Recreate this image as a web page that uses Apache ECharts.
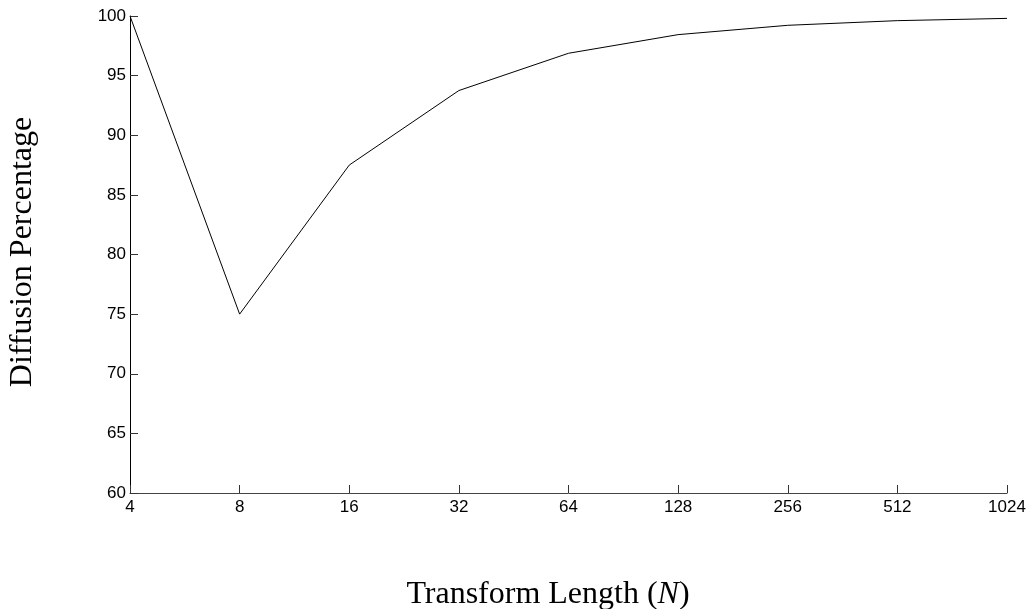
<!DOCTYPE html>
<html><head><meta charset="utf-8">
<script src="https://cdn.jsdelivr.net/npm/echarts@6/dist/echarts.min.js"></script>
<style>html,body{margin:0;padding:0;background:#fff;overflow:hidden}#c{width:1032px;height:609px}</style>
</head><body><div id="c"></div>
<script>
const categories = ['4','8','16','32','64','128','256','512','1024'];
const diffusion = [100, 75, 87.5, 93.75, 96.875, 98.4375, 99.22, 99.61, 99.8];
const yTicks = {min: 60, max: 100, interval: 5};

const chart = echarts.init(document.getElementById('c'));
chart.setOption({
  animation: false,
  backgroundColor: '#fff',
  grid: {left: 130, width: 877, top: 16, height: 477, containLabel: false},
  xAxis: {
    type: 'category', data: categories, boundaryGap: false,
    axisLine: {lineStyle: {color: '#444', width: 1}},
    axisTick: {inside: true, length: 8, lineStyle: {color: '#333'}},
    axisLabel: {color: '#000', fontFamily: 'Liberation Sans, Arial', fontSize: 17, margin: 6},
    splitLine: {show: false}
  },
  yAxis: {
    type: 'value', min: yTicks.min, max: yTicks.max, interval: yTicks.interval,
    axisLine: {show: true, lineStyle: {color: '#000', width: 1}},
    axisTick: {show: true, inside: true, length: 8, lineStyle: {color: '#333'}},
    axisLabel: {color: '#000', fontFamily: 'Liberation Sans, Arial', fontSize: 17, margin: 4},
    splitLine: {show: false}
  },
  graphic: [
    {
      type: 'text', x: 548, y: 595,
      style: {
        text: '{a|Transform Length (}{b|N}{a|)}',
        align: 'center', verticalAlign: 'middle',
        rich: {
          a: {fontFamily: 'Liberation Serif, Times New Roman', fontSize: 32, fill: '#000'},
          b: {fontFamily: 'Liberation Serif, Times New Roman', fontSize: 32, fontStyle: 'italic', fill: '#000'}
        }
      }
    },
    {
      type: 'text', x: 23, y: 252, rotation: Math.PI / 2,
      style: {
        text: 'Diffusion Percentage', align: 'center', verticalAlign: 'middle',
        fontFamily: 'Liberation Serif, Times New Roman', fontSize: 32, fill: '#000'
      }
    }
  ],
  series: [{
    type: 'line', data: diffusion, symbol: 'none',
    lineStyle: {color: '#000', width: 1}
  }]
});
</script></body></html>
